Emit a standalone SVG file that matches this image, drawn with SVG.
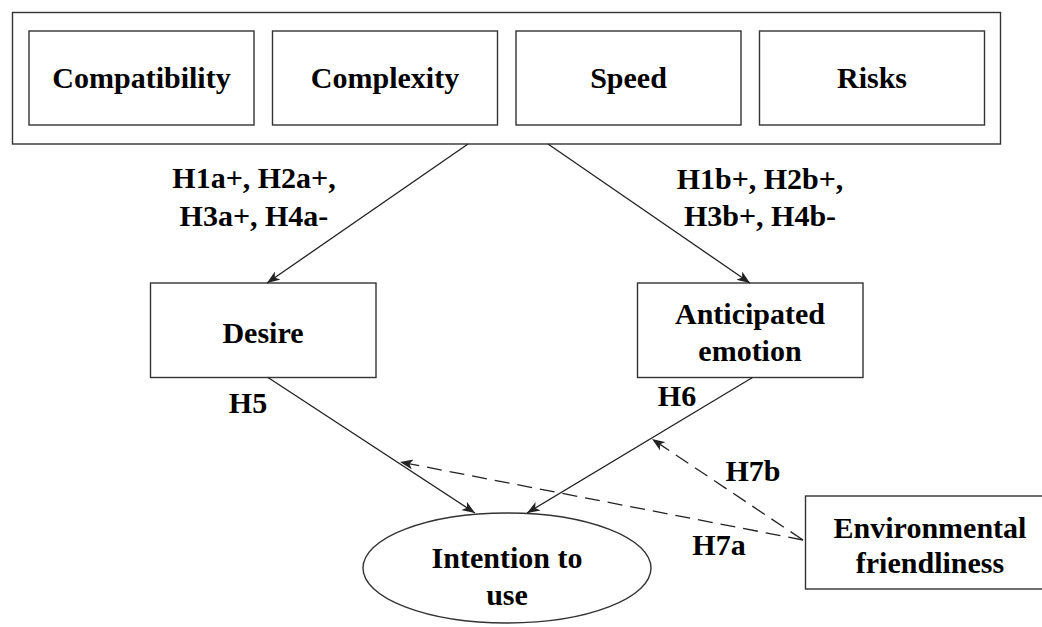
<svg xmlns="http://www.w3.org/2000/svg" width="1042" height="627" viewBox="0 0 1042 627">
<style>
.box{fill:#fff;stroke:#333;stroke-width:1.4}
.t{font-family:"Liberation Serif","Times New Roman",serif;font-weight:bold;font-size:30px;fill:#000;text-anchor:middle}
.c{fill:none;stroke:#222;stroke-width:1.3}
.d{fill:none;stroke:#222;stroke-width:1.3;stroke-dasharray:15 8}
</style>
<defs>
<marker id="ah" markerUnits="userSpaceOnUse" markerWidth="14" markerHeight="10" refX="13" refY="5" orient="auto">
<path d="M0,0 L13,5 L0,10 L3.5,5 z" fill="#222"/>
</marker>
</defs>
<rect x="0" y="0" width="1042" height="627" fill="#fff"/>
<g id="factors">
<rect class="box" x="12.5" y="12.5" width="988" height="131.5"/>
</g>
<g id="compatibility"><rect class="box" x="29" y="31" width="225" height="94"/><text class="t" x="141.5" y="88">Compatibility</text></g>
<g id="complexity"><rect class="box" x="272.5" y="31" width="225" height="94"/><text class="t" x="385" y="88">Complexity</text></g>
<g id="speed"><rect class="box" x="516" y="31" width="225" height="94"/><text class="t" x="628.5" y="88">Speed</text></g>
<g id="risks"><rect class="box" x="759.5" y="31" width="225" height="94"/><text class="t" x="872" y="88">Risks</text></g>
<g id="desire"><rect class="box" x="150.5" y="283" width="225.5" height="94.5"/><text class="t" x="263" y="343">Desire</text></g>
<g id="anticipated"><rect class="box" x="637.5" y="283" width="225.5" height="94.5"/><text class="t" x="750" y="324">Anticipated</text><text class="t" x="750" y="361">emotion</text></g>
<g id="intention"><ellipse class="box" cx="507" cy="568" rx="144" ry="55"/><text class="t" x="507" y="568">Intention to</text><text class="t" x="507" y="605">use</text></g>
<g id="environmental"><rect class="box" x="805.5" y="496" width="250" height="93"/><text class="t" x="930" y="538">Environmental</text><text class="t" x="930" y="573">friendliness</text></g>
<g id="connectors">
<line class="c" x1="468" y1="144" x2="267" y2="283" marker-end="url(#ah)"/>
<line class="c" x1="548" y1="144" x2="750" y2="283" marker-end="url(#ah)"/>
<line class="c" x1="268" y1="377.5" x2="475" y2="513" marker-end="url(#ah)"/>
<line class="c" x1="752.5" y1="377.5" x2="527" y2="513" marker-end="url(#ah)"/>
<line class="d" x1="803" y1="540" x2="400" y2="462" marker-end="url(#ah)"/>
<line class="d" x1="803" y1="540" x2="652" y2="439" marker-end="url(#ah)"/>
</g>
<g id="labels">
<text class="t" x="254" y="188">H1a+, H2a+,</text>
<text class="t" x="254" y="226">H3a+, H4a-</text>
<text class="t" x="760" y="189">H1b+, H2b+,</text>
<text class="t" x="760" y="226">H3b+, H4b-</text>
<text class="t" x="248" y="413">H5</text>
<text class="t" x="677" y="406">H6</text>
<text class="t" x="753" y="481">H7b</text>
<text class="t" x="719" y="555">H7a</text>
</g>
</svg>
